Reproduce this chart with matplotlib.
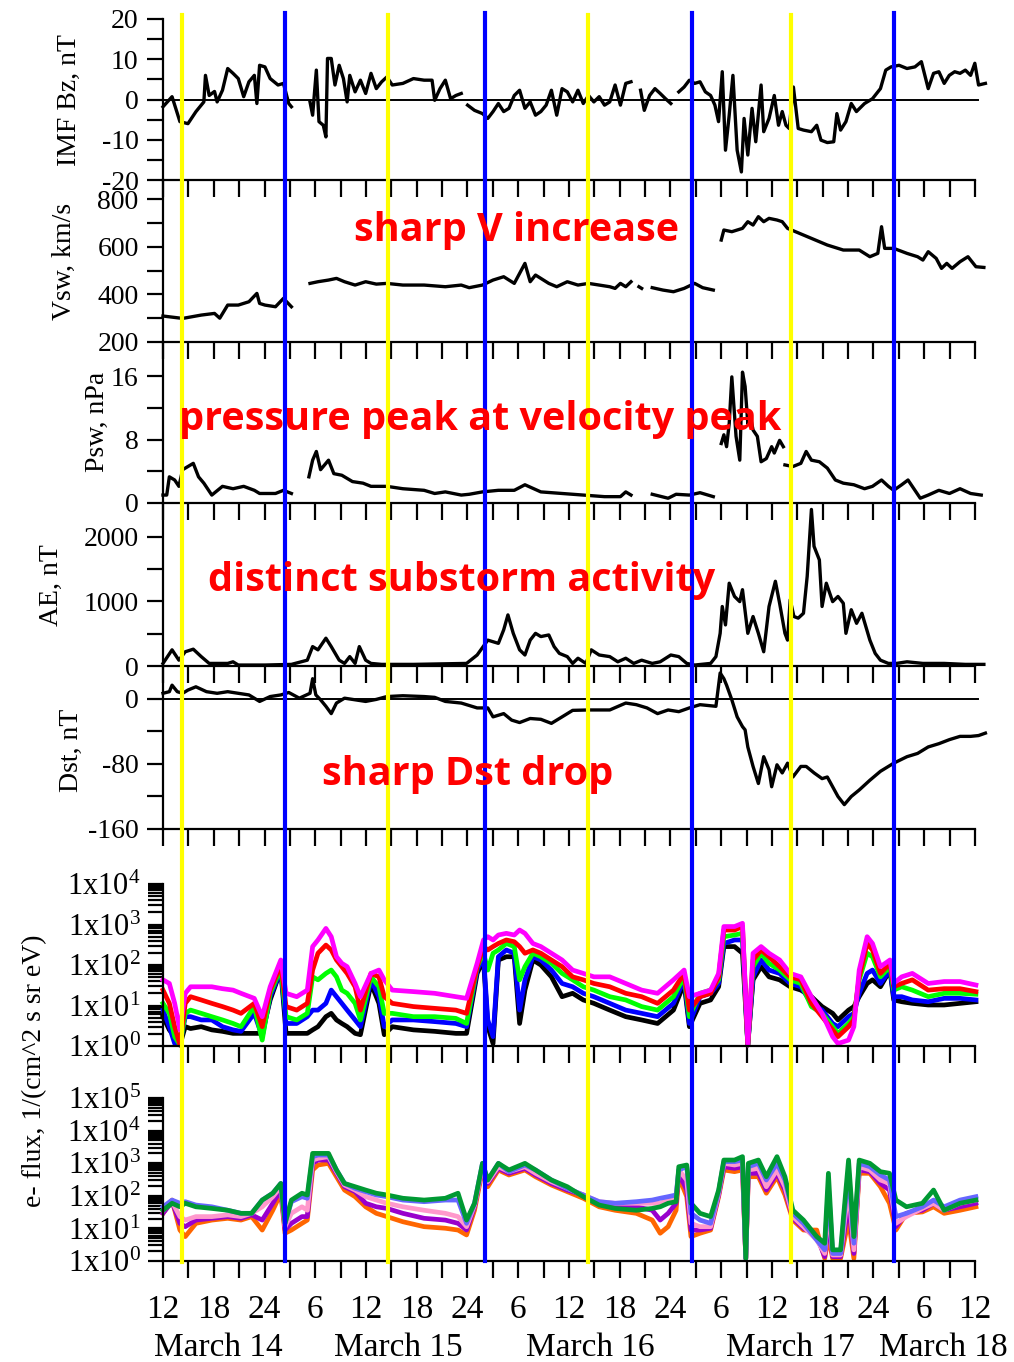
import numpy as np
import matplotlib
matplotlib.use('Agg')
import matplotlib.pyplot as plt
from matplotlib.ticker import MultipleLocator, FixedLocator, LogLocator, NullFormatter, FuncFormatter
from matplotlib.lines import Line2D
import matplotlib.transforms as mtransforms

nan = np.nan

# ---------------- data (hours since 14 March 00:00 UT) ----------------
bz_hours = [12.0, 13.07, 14.0, 14.95, 15.9, 16.83, 17.02, 17.46, 18.09, 18.4, 19.03, 19.65, 20.28, 20.9, 21.54,
            22.16, 22.8, 23.1, 23.42, 24.05, 24.67, 25.6, 26.24, 26.87, 27.18, 28.0,
            29.38, 29.69, 30.13, 30.44, 30.95, 31.26, 31.45, 31.89, 32.33, 32.83, 33.33, 33.77, 34.08, 34.71,
            35.34, 35.96, 36.59, 37.22, 37.85, 38.47, 39.1, 40.36, 41.61, 42.87, 43.81, 44.12, 44.75, 45.38,
            46.0, 46.63, 47.26, 47.6,
            48.01, 48.83, 49.77, 50.4, 51.02, 51.65, 52.28, 52.9, 53.53, 54.16, 54.79, 55.41, 56.04, 56.67,
            57.3, 57.92, 58.55, 59.18, 59.8, 60.43, 61.06, 61.69, 62.31, 62.94, 63.57, 64.2, 64.82, 65.45,
            66.08, 66.71, 67.33, 67.9,
            68.46, 68.9, 69.53, 70.16, 70.78, 71.41, 72.04, 72.5,
            72.98, 73.61, 74.23, 74.86, 75.49, 76.12, 76.74, 77.25, 77.68, 78.12, 78.5, 78.94, 79.38, 79.88,
            80.38, 80.7, 81.14, 81.64, 82.08, 82.71, 83.02, 83.65, 84.27, 84.77, 85.21, 85.65, 86.03, 86.53,
            87.1, 87.72, 88.66, 89.29, 89.79, 90.54, 91.3, 91.67, 92.11, 92.74, 93.37, 93.98, 94.94, 95.88,
            96.82, 97.45, 98.07, 99.02, 99.96, 100.9, 101.66, 102.47, 103.1, 103.73, 104.36, 104.96, 105.6,
            106.23, 106.86, 107.48, 107.98, 108.42, 109.23]
bz_values = [-1.8, 0.7, -5.5, -6, -3, -0.6, 6, 1, 2, -0.6, 2.3, 7.7, 6.5, 5.2, 0.7,
             4.4, 6, -1, 8.5, 8.1, 5.2, 3.6, 4, -1, -1.8, nan,
             -0.6, -3.9, 7.3, -5.5, -6.4, -9.3, 10.2, 10.2, 3.6, 8.5, 5.2, -0.6, 6, 1.9,
             4.8, 1.5, 6.5, 2.7, 4.4, 5.6, 3.6, 4, 5.2, 4.8, 4.8, -0.2, 2.7, 4.8,
             0.2, 1, 1.5, nan,
             -1.4, -2.7, -3.5, -4.7, -3, -1, -3, -2.2, 1, 2.3, -2.2, -0.6, -3.9, -3,
             -1.4, 2.3, -3.9, 2.7, 1.9, -0.6, 2.3, -1, 1, -0.6, 0.7, -1.4, -0.6, 3.6,
             -1.4, 4, 4.4, nan,
             2.3, -2.7, 1, 2.7, 1.5, 0.2, -1, nan,
             1.9, 3.1, 4.8, 4, 4.4, 1.9, 1, -1.4, -5.5, 6.9, -12.6, -3.9, 6, -12.6,
             -18, -4.7, -13.8, -2.2, -10.5, 3.6, -8, -4.7, 1, -6.4, -3, -6.4, -7.2, 3.1,
             -7.2, -7.6, -8, -6.4, -10.1, -10.7, -10.5, -3.5, -7.6, -5.5, -1, -3, -1, 0.2,
             2.7, 7.3, 8.1, 8.5, 7.7, 8.1, 9.4, 2.7, 6.5, 6.9, 4, 6, 6.9,
             6.5, 7.3, 6, 9, 3.6, 4]

vsw_hours = [12.0, 14.32, 16.52, 18.09, 18.71, 19.65, 20.9, 22.16, 23.1, 23.42, 24.05, 25.3, 26.24, 27.18, 28.0,
             29.38, 30.32, 31.57, 32.51, 33.46, 34.71, 35.96, 37.22, 38.47, 40.36, 42.87, 45.38, 47.26, 48.2,
             49.77, 51.02, 52.28, 53.53, 54.16, 54.79, 55.41, 56.04, 56.67, 57.61, 58.55, 59.8, 61.06, 62.31,
             63.57, 64.82, 65.45, 66.08, 66.71, 67.33, 67.8, 68.27, 68.59, 69.3,
             69.84, 71.1, 72.35, 73.61, 74.86, 75.8, 77.06, 77.2,
             78.0, 78.31, 79.25, 80.51, 81.14, 81.76, 82.39, 83.02, 83.65, 84.59, 85.21, 85.84, 86.78, 88.66,
             90.54, 92.43, 94.31, 95.57, 96.51, 96.95, 97.32, 98.39, 99.96, 101.21, 101.84, 102.47, 103.41,
             104.04, 104.66, 105.29, 106.23, 107.17, 108.11, 109.05]
vsw_values = [309, 299, 313, 320, 300, 355, 355, 369, 404, 362, 355, 348, 383, 348, nan,
              446, 453, 460, 467, 453, 439, 453, 443, 446, 439, 439, 432, 439, 428,
              439, 460, 474, 446, 488, 530, 453, 481, 467, 446, 432, 453, 439, 446,
              439, 432, 425, 446, 432, 453, nan, 432, 425, nan,
              428, 418, 411, 425, 446, 428, 418, nan,
              628, 670, 663, 677, 705, 691, 726, 705, 719, 712, 705, 677, 663, 635,
              607, 586, 586, 558, 572, 684, 593, 593, 572, 558, 544, 579, 551,
              509, 530, 509, 537, 558, 516, 513]

psw_hours = [12.0, 12.44, 12.75, 13.38, 13.88, 14.32, 14.95, 15.58, 16.2, 16.83, 17.77, 19.03, 20.28, 21.54,
             22.8, 23.42, 24.05, 25.3, 26.24, 27.18, 28.0,
             29.25, 29.69, 30.13, 30.63, 31.57, 32.2, 33.14, 34.4, 35.65, 36.59, 38.47, 40.36, 42.87, 44.12,
             45.38, 47.26, 48.2, 49.77, 51.65, 53.53, 54.79, 56.67, 59.18, 61.69, 64.2, 66.08, 66.71, 67.33,
             67.8, 68.27, 68.8, 69.84, 71.72, 72.66, 74.23, 75.49, 77.06, 77.3,
             78.0, 78.31, 78.63, 78.94, 79.25, 79.75, 80.19, 80.51, 80.82, 81.14, 81.45, 81.76, 82.27, 82.71,
             83.33, 83.96, 84.27, 84.9, 85.34, 85.45,
             85.53, 86.47, 87.41, 88.04, 88.66, 89.6, 90.54, 91.49, 92.43, 93.68, 94.94, 95.88, 96.95, 97.76,
             98.39, 99.33, 100.08, 100.9, 101.53, 102.47, 103.73, 104.98, 106.23, 107.48, 108.74]
psw_values = [1.0, 1.0, 3.3, 2.9, 2.1, 4.2, 4.6, 5.0, 3.3, 2.5, 1.0, 2.1, 1.8, 2.1,
              1.6, 1.2, 1.2, 1.2, 1.6, 1.2, nan,
              3.3, 5.4, 6.5, 4.2, 5.4, 3.7, 3.5, 2.7, 2.5, 2.1, 2.1, 1.8, 1.6, 1.2,
              1.4, 1.0, 1.1, 1.4, 1.6, 1.6, 2.3, 1.4, 1.2, 1.0, 0.8, 0.8, 1.4, 1.0,
              nan, 1.2, nan, 1.1, 0.6, 1.1, 1.0, 1.3, 0.8, nan,
              7.5, 8.6, 7.1, 10.0, 15.9, 8.4, 5.4, 16.5, 14.7, 10.0, 10.9, 9.2, 8.4, 5.2,
              5.6, 7.1, 6.3, 7.9, 7.1, nan,
              4.8, 4.6, 5.0, 6.5, 5.4, 5.2, 4.4, 2.9, 2.5, 2.3, 1.8, 2.1, 2.9, 2.1,
              1.6, 2.3, 2.9, 1.6, 0.6, 1.0, 1.6, 1.2, 1.8, 1.2, 1.0]

ae_hours = [12.0, 13.07, 13.88, 14.63, 15.58, 16.52, 17.46, 19.65, 20.28, 20.9, 24.05, 27.18, 29.06, 29.69,
            30.32, 31.26, 31.89, 32.83, 33.46, 34.08, 34.71, 35.21, 35.96, 36.59, 37.85, 41.61, 47.89, 49.14,
            50.4, 51.65, 52.28, 52.78, 53.41, 54.16, 54.79, 55.41, 56.04, 56.67, 57.61, 58.24, 58.86, 59.8,
            60.43, 61.06, 62.0, 62.63, 63.57, 64.82, 65.77, 66.71, 67.65, 68.59, 69.84, 70.78, 72.04, 72.98,
            73.92, 74.86, 76.74, 77.37, 77.87, 78.12, 78.5, 78.94, 79.57, 80.19, 80.51, 81.14, 81.76, 82.39,
            83.02, 83.65, 84.4, 84.9, 85.53, 85.84, 86.15, 86.59, 87.1, 87.72, 88.16, 88.66, 88.97, 89.6,
            89.92, 90.42, 91.17, 91.8, 92.43, 92.74, 93.37, 94.0, 94.63, 95.57, 96.2, 96.82, 97.76, 98.71,
            99.96, 101.84, 104.36, 106.86, 109.05]
ae_values = [40, 250, 90, 220, 260, 145, 40, 40, 65, 15, 15, 25, 90, 300,
             250, 430, 300, 90, 40, 145, 40, 300, 90, 40, 25, 25, 40, 170,
             400, 350, 560, 790, 505, 250, 170, 400, 505, 455, 480, 300, 195, 145,
             40, 120, 40, 250, 170, 145, 65, 120, 40, 90, 40, 65, 170, 145,
             40, 15, 40, 145, 505, 920, 635, 1280, 1075, 995, 1180, 505, 765, 505,
             220, 920, 1310, 970, 505, 400, 1025, 765, 740, 815, 1385, 2420, 1850, 1640,
             920, 1280, 995, 1075, 970, 505, 870, 660, 815, 400, 195, 90, 40, 40,
             65, 40, 40, 25, 25]

dst_hours = [12.0, 12.75, 13.07, 13.69, 14.32, 14.95, 15.89, 17.14, 18.4, 19.65, 20.9, 22.16, 23.42, 24.67,
             25.93, 26.87, 28.12, 29.38, 29.69, 30.07, 30.63, 31.26, 31.89, 32.51, 33.46, 34.71, 35.96, 37.22,
             38.47, 40.36, 42.87, 44.12, 45.38, 47.26, 49.14, 50.4, 51.02, 52.28, 53.22, 54.16, 55.41, 56.67,
             57.92, 59.18, 60.43, 62.31, 64.82, 66.71, 67.96, 69.22, 70.47, 71.72, 72.98, 74.23, 75.49, 77.37,
             77.87, 78.31, 78.63, 79.25, 79.88, 80.51, 80.82, 81.14, 81.76, 82.39, 83.02, 83.65, 83.96, 84.59,
             85.21, 85.84, 86.47, 87.41, 88.04, 88.98, 89.92, 90.54, 91.17, 91.8, 92.55, 93.37, 94.31, 95.57,
             96.82, 98.39, 99.96, 101.21, 102.47, 103.73, 104.98, 106.23, 107.48, 108.42, 109.23]
dst_values = [7, 9, 17, 9, 7, 11, 15, 9, 7, 9, 7, 5, -3, 3,
              5, 8, 1, 7, 25, 5, -1, -9, -18, -5, 1, -1, -3, -0.5,
              3, 4, 3, 2, -3, -5, -11, -11, -22, -18, -26, -29, -24, -25,
              -30, -22, -14, -13.5, -13.5, -5, -7, -11, -18, -13.5, -15.6, -11, -7, -9,
              32, 25, 17, -1, -22, -34, -38, -59, -83, -104, -71, -87, -108, -81,
              -91, -79, -96, -83, -83, -91, -98, -96, -108, -120, -130, -120, -112, -100,
              -89, -79, -71, -67, -59, -55, -50, -46, -46, -45, -42]

# electron flux, upper panel (5 energy channels)
flux1_hours = [12.0, 12.75, 13.38, 14.0, 14.63, 15.26, 16.52, 17.77, 19.03, 20.28, 21.22, 22.79, 23.73, 24.67,
               25.93, 26.55, 27.81, 29.06, 29.69, 30.32, 31.26, 31.89, 32.51, 33.14, 33.77, 34.71, 35.34,
               36.59, 37.53, 38.16, 39.1, 41.61, 44.12, 46.63, 47.89, 49.14, 49.89, 50.4, 51.02, 51.65, 52.59,
               53.53, 54.16, 54.79, 55.73, 56.67, 57.92, 59.18, 60.43, 61.69, 62.94, 64.82, 66.71, 68.59, 70.47,
               72.35, 73.61, 74.23, 75.49, 76.74, 77.69, 78.31, 79.57, 80.51, 81.14, 81.76, 82.71, 83.65, 84.9,
               86.15, 87.41, 88.66, 89.92, 91.17, 91.8, 93.05, 93.68, 94.31, 95.25, 95.88, 96.82, 97.95, 98.39,
               99.33, 100.59, 102.47, 104.35, 106.23, 108.11]
flux1_magenta = [43, 35, 11.3, 2.5, 20, 29, 29, 29, 26, 24, 20, 15, 5.3, 29,
                 133, 20, 16.5, 24, 285, 415, 800, 500, 160, 110, 91, 35, 16.5,
                 62, 75, 43, 24, 22, 20, 16.5, 15, 110, 415, 500, 415, 550, 605,
                 550, 730, 605, 340, 285, 195, 133, 75, 62, 51, 51, 35, 24, 20,
                 43, 75, 16.5, 20, 24, 62, 890, 890, 1070, 1.06, 195, 285, 195, 133,
                 62, 51, 16.5, 6.4, 1.7, 1.15, 1.4, 3.0, 75, 500, 340, 91, 133, 35,
                 51, 62, 35, 39, 39, 32]
flux1_red = [24, 11.3, 3.0, 1.06, 11.3, 16.5, 13.7, 11.3, 9.4, 7.7, 6.4, 11.3, 3.0, 24,
             100, 9.4, 7.7, 11.3, 75, 195, 310, 235, 133, 91, 62, 29, 7.7,
             62, 51, 16.5, 11.3, 9.4, 8.5, 7.7, 6.4, 91, 285, 235, 285, 340, 415,
             375, 285, 195, 235, 195, 133, 91, 51, 43, 35, 29, 20, 16.5, 11.3,
             24, 62, 7.7, 16.5, 20, 51, 730, 730, 890, 1.06, 133, 235, 160, 91,
             51, 43, 11.3, 5.3, 2.5, 1.7, 3.0, 4.4, 51, 340, 235, 62, 110, 29,
             35, 43, 24, 26, 26, 22]
flux1_green = [11.3, 6.4, 1.7, 1.06, 6.4, 7.7, 6.4, 5.3, 4.4, 3.6, 3.0, 9.4, 1.4, 20,
               83, 5.3, 4.4, 6.4, 51, 43, 62, 75, 51, 24, 20, 11.3, 4.4,
               51, 29, 6.4, 6.4, 5.3, 5.3, 4.8, 3.6, 91, 195, 75, 195, 235, 340,
               285, 43, 91, 195, 160, 110, 62, 43, 29, 24, 16.5, 13.7, 9.4, 7.7,
               16.5, 51, 5.3, 20, 24, 43, 500, 550, 605, 1.06, 91, 195, 110, 75,
               43, 35, 9.4, 6.4, 3.0, 2.05, 3.6, 5.3, 43, 195, 160, 51, 91, 24,
               29, 24, 16.5, 20, 20, 19]
flux1_blue = [7.7, 3.0, 1.15, 1.06, 5.3, 5.3, 4.4, 4.4, 3.0, 2.5, 2.3, 6.4, 1.7, 16.5,
              75, 3.6, 3.6, 5.3, 7.7, 7.7, 11.3, 24, 16.5, 11.3, 7.7, 4.4, 3.0,
              43, 16.5, 3.0, 4.4, 4.4, 4.0, 3.6, 3.0, 75, 160, 4.4, 1.7, 160, 235,
              195, 7.7, 43, 160, 133, 75, 35, 29, 20, 16.5, 11.3, 7.7, 6.4, 5.3,
              11.3, 43, 3.6, 16.5, 20, 35, 340, 415, 415, 1.06, 51, 133, 75, 62,
              35, 29, 11.3, 7.7, 3.6, 3.0, 5.3, 6.4, 20, 62, 75, 35, 75, 16.5,
              16.5, 13.7, 12.4, 15, 15, 13.7]
flux1_black = [5.3, 2.5, 1.7, 1.06, 3.0, 2.7, 3.0, 2.5, 2.3, 2.05, 2.05, 2.05, 2.05, 13.7,
               75, 2.05, 2.05, 2.05, 2.5, 3.0, 5.3, 6.4, 4.4, 3.6, 3.0, 2.05, 1.9,
               35, 11.3, 1.9, 3.0, 2.5, 2.3, 2.05, 2.05, 62, 133, 3.0, 1.15, 133, 160,
               160, 3.6, 24, 133, 100, 51, 16.5, 20, 13.7, 11.3, 7.7, 5.3, 4.4, 3.6,
               7.7, 35, 3.0, 11.3, 13.7, 29, 285, 285, 195, 1.06, 43, 91, 51, 43,
               29, 24, 16.5, 9.4, 6.4, 4.4, 7.7, 9.4, 16.5, 35, 43, 29, 75, 13.7,
               12.4, 11.3, 10.3, 10.3, 11.3, 12.4]

# electron flux, lower panel (5 energy channels)
flux2_hours = [12.0, 13.07, 14.0, 14.63, 15.89, 17.77, 19.65, 21.22, 22.48, 23.73, 24.98, 25.93, 26.43, 27.18,
               28.43, 29.06, 29.69, 30.32, 31.57, 32.51, 33.46, 34.71, 35.96, 37.22, 38.47, 40.36, 42.87, 45.38,
               46.88, 47.89, 48.83, 49.77, 50.4, 51.65, 52.9, 54.79, 56.04, 57.92, 59.8, 61.69, 63.57, 65.45,
               67.96, 69.84, 70.78, 71.72, 72.66, 72.98, 73.92, 74.42, 75.49, 76.74, 77.69, 78.31, 79.57, 80.51,
               80.9, 81.2, 82.39, 83.33, 84.59, 85.53, 86.47, 87.72, 89.29, 90.23, 90.67, 91.17, 92.11, 93.05,
               93.68, 94.31, 95.57, 96.82, 97.89, 98.65, 99.9, 101.78, 103.1, 104.35, 106.23, 108.11]
flux2_green = [36, 59, 46, 59, 46, 41, 36, 29, 29, 74, 120, 240, 14.3, 74,
               120, 106, 2000, 2000, 2000, 620, 240, 190, 150, 120, 106, 84, 74, 84,
               120, 18, 59, 990, 305, 990, 620, 990, 620, 305, 190, 94, 52, 41,
               36, 41, 46, 59, 66, 780, 880, 59, 29, 23, 150, 1250, 1250, 1590,
               1.2, 990, 1250, 385, 1590, 385, 36, 18, 5.6, 3.5, 490, 2.2, 2.2, 1250,
               5.6, 1250, 990, 550, 490, 74, 46, 59, 150, 36, 59, 74]
flux2_slate = [46, 74, 59, 66, 52, 46, 36, 29, 29, 74, 120, 240, 14.3, 66,
               94, 84, 1590, 1780, 1780, 620, 240, 169, 134, 106, 94, 74, 66, 74,
               74, 14.3, 59, 990, 305, 990, 550, 880, 620, 305, 169, 106, 66, 59,
               66, 74, 84, 94, 106, 620, 780, 29, 18, 14.3, 134, 1115, 1115, 1250,
               1.2, 780, 990, 305, 990, 305, 29, 14.3, 4.4, 2.2, 190, 1.7, 1.7, 620,
               3.5, 990, 780, 435, 305, 23, 29, 46, 74, 46, 74, 94]
flux2_pink = [36, 66, 23, 18, 23, 23, 26, 23, 29, 46, 94, 190, 11.3, 29,
              46, 36, 1250, 1410, 1590, 550, 214, 150, 94, 74, 59, 46, 36, 29,
              23, 11.3, 52, 780, 271, 780, 550, 780, 490, 271, 169, 106, 66, 59,
              59, 59, 59, 74, 94, 620, 305, 14.3, 11.3, 11.3, 120, 990, 880, 990,
              1.2, 620, 696, 190, 620, 190, 23, 11.3, 4.4, 1.7, 59, 1.53, 1.53, 190,
              2.2, 780, 620, 305, 240, 14.3, 23, 41, 59, 36, 59, 74]
flux2_purple = [29, 66, 14.3, 11.3, 18, 20.4, 23, 20.4, 26, 18, 59, 150, 8.9, 14.3,
                23, 23, 990, 1250, 1250, 490, 190, 134, 59, 46, 41, 29, 20.4, 18,
                14.3, 8.9, 46, 780, 240, 696, 490, 696, 435, 240, 150, 106, 59, 52,
                46, 36, 18, 29, 59, 490, 150, 8.9, 8.9, 10.1, 106, 780, 696, 780,
                1.2, 490, 490, 150, 490, 150, 20.4, 10.1, 5.6, 1.36, 18, 1.36, 1.36, 59,
                1.7, 620, 550, 240, 150, 11.3, 29, 36, 59, 36, 46, 59]
flux2_orange = [29, 74, 8.9, 5.6, 14.3, 18, 20.4, 18, 23, 8.9, 36, 120, 7.1, 8.9,
                14.3, 18, 620, 880, 990, 385, 150, 94, 46, 29, 23, 16, 11.3, 10.1,
                8.9, 6.3, 36, 620, 190, 620, 435, 620, 385, 214, 134, 84, 46, 36,
                29, 18, 7.1, 11.3, 36, 385, 94, 5.6, 7.1, 8.9, 94, 620, 550, 620,
                1.2, 385, 385, 120, 385, 106, 18, 8.9, 8.9, 1.2, 5.6, 1.2, 1.2, 18,
                1.2, 490, 490, 190, 59, 8.9, 29, 32, 46, 29, 36, 46]

yellow_hours = [14.3, 38.6, 62.3, 86.3]
blue_hours = [26.4, 50.1, 74.5, 98.4]

day_labels = ['March 14', 'March 15', 'March 16', 'March 17', 'March 18']

# ---------------- styling ----------------
plt.rcParams['font.family'] = ['Liberation Serif', 'DejaVu Serif']
plt.rcParams['mathtext.fontset'] = 'custom'
plt.rcParams['mathtext.rm'] = 'Liberation Serif'
plt.rcParams['mathtext.it'] = 'Liberation Serif:italic'
plt.rcParams['axes.unicode_minus'] = False

W, H = 1014, 1362
fig = plt.figure(figsize=(W / 100, H / 100), dpi=100)

LEFT, RIGHT = 163, 975
TICKFS = 20


def add_ax(top, bottom):
    ax = fig.add_axes([LEFT / W, 1 - bottom / H, (RIGHT - LEFT) / W, (bottom - top) / H])
    ax.patch.set_alpha(0)
    for s in ('top', 'right'):
        ax.spines[s].set_visible(False)
    for s in ('left', 'bottom'):
        ax.spines[s].set_linewidth(1.6)
    ax.set_xlim(12, 108)
    ax.xaxis.set_major_locator(MultipleLocator(6))
    ax.xaxis.set_minor_locator(MultipleLocator(3))
    ax.tick_params(axis='x', which='both', direction='out', length=12, width=1.6, labelbottom=False)
    ax.tick_params(axis='y', which='both', direction='out', length=11.5, width=1.6,
                   labelsize=TICKFS, pad=6)
    return ax


ax_bz = add_ax(19, 180)
ax_v = add_ax(180, 342)
ax_p = add_ax(342, 503)
ax_ae = add_ax(503, 666)
ax_dst = add_ax(666, 829)
ax_f1 = add_ax(884, 1046)
ax_f2 = add_ax(1098, 1261)

LW = 2.4
# Bz
ax_bz.axhline(0, color='black', lw=1.4, xmax=1.004, clip_on=False)
ax_bz.plot(bz_hours, bz_values, color='black', lw=LW, clip_on=False)
ax_bz.set_ylim(-20, 20)
ax_bz.yaxis.set_major_locator(FixedLocator([-20, -10, 0, 10, 20]))
ax_bz.yaxis.set_minor_locator(FixedLocator([-15, -5, 5, 15]))
ax_bz.yaxis.set_major_formatter(FuncFormatter(lambda v, p: '%d' % v))

# Vsw
ax_v.plot(vsw_hours, vsw_values, color='black', lw=LW, clip_on=False)
ax_v.set_ylim(200, 880)
ax_v.yaxis.set_major_locator(FixedLocator([200, 400, 600, 800]))
ax_v.yaxis.set_minor_locator(FixedLocator([300, 500, 700]))
ax_v.yaxis.set_major_formatter(FuncFormatter(lambda v, p: '%d' % v))

# Psw
ax_p.plot(psw_hours, psw_values, color='black', lw=LW, clip_on=False)
ax_p.set_ylim(0, 20.3)
ax_p.yaxis.set_major_locator(FixedLocator([0, 8, 16]))
ax_p.yaxis.set_minor_locator(FixedLocator([4, 12]))
ax_p.yaxis.set_major_formatter(FuncFormatter(lambda v, p: '%d' % v))

# AE
ax_ae.plot(ae_hours, ae_values, color='black', lw=LW, clip_on=False)
ax_ae.set_ylim(0, 2520)
ax_ae.yaxis.set_major_locator(FixedLocator([0, 1000, 2000]))
ax_ae.yaxis.set_minor_locator(FixedLocator([500, 1500]))
ax_ae.yaxis.set_major_formatter(FuncFormatter(lambda v, p: '%d' % v))

# Dst
ax_dst.axhline(0, color='black', lw=1.4, xmax=1.004, clip_on=False)
ax_dst.plot(dst_hours, dst_values, color='black', lw=LW, clip_on=False)
ax_dst.set_ylim(-160, 40.6)
ax_dst.yaxis.set_major_locator(FixedLocator([-160, -80, 0]))
ax_dst.yaxis.set_minor_locator(FixedLocator([-120, -40]))
ax_dst.yaxis.set_major_formatter(FuncFormatter(lambda v, p: '%d' % v))


def logfmt(v, p):
    e = int(round(np.log10(v)))
    return r'1x10$^{%d}$' % e


FLW = 3.4
for ser, col in [(flux1_black, 'black'), (flux1_blue, '#0000FF'), (flux1_green, '#00FF00'),
                 (flux1_red, '#FF0000'), (flux1_magenta, '#FF00FF')]:
    ax_f1.plot(flux1_hours, ser, color=col, lw=FLW, clip_on=False)
ax_f1.set_yscale('log')
ax_f1.set_ylim(1, 1e4)

for ser, col in [(flux2_orange, '#FF6600'), (flux2_purple, '#9900CC'), (flux2_pink, '#FF99CC'),
                 (flux2_slate, '#6666FF'), (flux2_green, '#009933')]:
    ax_f2.plot(flux2_hours, ser, color=col, lw=FLW, clip_on=False)
ax_f2.set_yscale('log')
ax_f2.set_ylim(1, 1e5)

for ax in (ax_f1, ax_f2):
    ax.yaxis.set_major_locator(LogLocator(base=10, numticks=10))
    ax.yaxis.set_minor_locator(LogLocator(base=10, subs=np.arange(2, 10), numticks=20))
    ax.yaxis.set_major_formatter(FuncFormatter(logfmt))
    ax.yaxis.set_minor_formatter(NullFormatter())
    ax.tick_params(axis='y', which='both', length=11, width=1.6, labelsize=22, pad=5)

# bottom hour labels
ax_f2.tick_params(axis='x', which='major', labelbottom=True, labelsize=24, pad=12)
ax_f2.xaxis.set_major_formatter(FuncFormatter(lambda h, p: '%d' % (h % 24 if h % 24 else 24)))

# day labels
for lab, xc in zip(day_labels, [218, 398, 590, 790, 943]):
    fig.text(xc / W, 1 - 1348 / H, lab, fontsize=24, ha='center', va='center')

# y-axis labels
YLFS = 20
for txt, xc, yc in [('IMF Bz, nT', 69, 100), ('Vsw, km/s', 64, 261), ('Psw, nPa', 97, 422),
                    ('AE, nT', 51, 585), ('Dst, nT', 71, 750),
                    ('e- flux, 1/(cm^2 s sr eV)', 35, 1071)]:
    fig.text(xc / W, 1 - yc / H, txt, fontsize=YLFS, rotation=90, ha='center', va='center')

# vertical event lines
trans = mtransforms.blended_transform_factory(ax_f2.transData, fig.transFigure)
for h in yellow_hours:
    fig.add_artist(Line2D([h, h], [1 - 15 / H, 1 - 1262 / H], transform=trans, color='#FFFF00',
                          lw=3, zorder=5))
for h in blue_hours:
    fig.add_artist(Line2D([h, h], [1 - 13 / H, 1 - 1261 / H], transform=trans, color='#0000FF',
                          lw=3, zorder=5))

# red annotations
RFS = 28.5
for txt, xc, yc in [('sharp V increase', 517, 230), ('pressure peak at velocity peak', 480, 420),
                    ('distinct substorm activity', 462, 581), ('sharp Dst drop', 468, 775)]:
    fig.text(xc / W, 1 - yc / H, txt, fontsize=RFS, color='#FF0000', fontfamily='Open Sans',
             fontweight='bold', ha='center', va='center', zorder=10)

fig.savefig('out.png', dpi=100)
